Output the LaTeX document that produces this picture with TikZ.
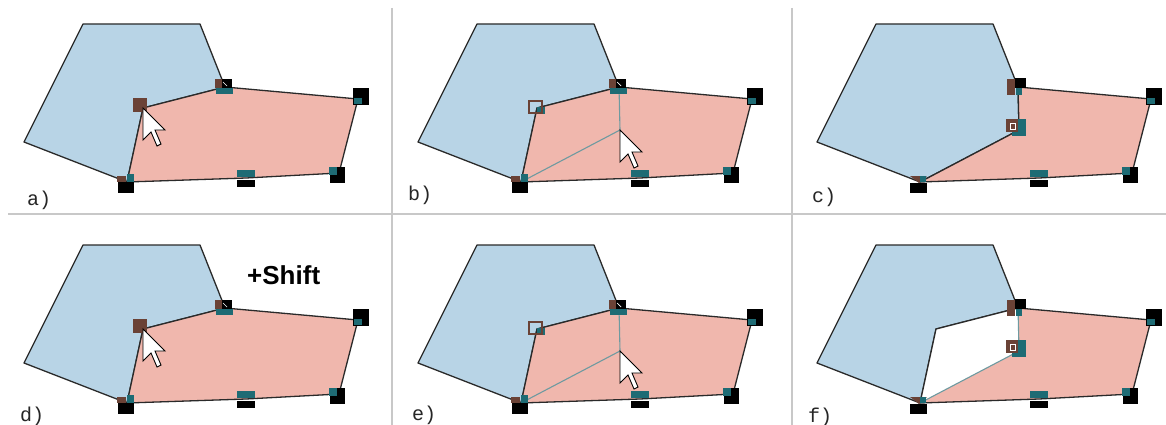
\documentclass[tikz,border=0pt]{standalone}
\usepackage{fontspec}
\setmainfont{Liberation Sans}
\newfontfamily\monof{Liberation Mono}
\definecolor{bluef}{HTML}{B8D4E6}
\definecolor{pinkf}{HTML}{F0B7AD}
\definecolor{tealh}{HTML}{1E6B74}
\definecolor{brownh}{HTML}{6A4236}
\definecolor{sepc}{HTML}{C8C8C8}
\definecolor{edgec}{HTML}{2A2A2A}
\definecolor{guidec}{HTML}{6E9AA0}
\tikzset{
  poly/.style={draw=edgec, line width=1.3pt, line join=round},
  bluepoly/.style={poly, fill=bluef},
  pinkpoly/.style={poly, fill=pinkf},
  guideline/.style={draw=guidec, line width=1.1pt},
  hb/.style={fill=black},
  ht/.style={fill=tealh},
  hr/.style={fill=brownh},
  cursorshape/.style={fill=white, draw=black, line width=0.9pt, line join=miter},
  lbl/.style={font=\monof\fontsize{20}{20}\selectfont, anchor=base west, inner sep=0pt, text=black!85},
  seprule/.style={draw=sepc, line width=1.5pt}
}
\newcommand\defpts{%
  \coordinate (B1) at (83,24); \coordinate (B2) at (200,24); \coordinate (B4) at (24,142);
  \coordinate (P1) at (143,108); \coordinate (P2) at (225,87); \coordinate (P3) at (358,99);
  \coordinate (P4) at (339,173); \coordinate (P5) at (246,178); \coordinate (P6) at (127,182);
  \coordinate (Q) at (226,130);}
\newcommand\mycursor[1]{\draw[cursorshape] (#1) -- ++(0,32) -- ++(8,-8) -- ++(6,14) -- ++(4,-2) -- ++(-6,-14) -- ++(10,0) -- cycle;}
\newcommand\origshapes{%
  \path[bluepoly] (B1) -- (B2) -- (P2) -- (P1) -- (P6) -- (B4) -- cycle;
  \path[pinkpoly] (P1) -- (P2) -- (P3) -- (P4) -- (P5) -- (P6) -- cycle;}
\newcommand\commonhandles{%
  \fill[hb] (353,88) rectangle (369,105); \fill[ht] (354,98) rectangle (362,104);
  \fill[hb] (330,167) rectangle (345,183); \fill[ht] (329,167) rectangle (337,175);
  \fill[ht] (237,170) rectangle (255,177); \fill[hb] (237,180) rectangle (255,187);}
\newcommand\handlesA{%
  \fill[hb] (218,79) rectangle (232,88); \fill[hr] (215,79) rectangle (222,88);
  \draw[white, line width=0.7pt] (223,82) -- (227,86);
  \fill[ht] (216,88) rectangle (233,94);
  \fill[hb] (118,182) rectangle (134,193); \fill[hr] (117,176) rectangle (126,182);
  \fill[ht] (127,174) rectangle (134,182);
  \commonhandles}
\newcommand\handlesC{%
  \fill[hb] (222,78) rectangle (233,88); \fill[hr] (214,79) rectangle (222,95);
  \fill[ht] (223,88) rectangle (229,95);
  \fill[ht] (219,119) rectangle (233,136); \fill[hr] (213,119) rectangle (225,132);
  \draw[white, line width=0.8pt] (217,123) rectangle (222,129);
  \fill[hb] (117,183) rectangle (134,193); \fill[hr] (117,176) -- (134,176) -- (126,183) -- cycle;
  \fill[ht] (127,176) rectangle (133,182);
  \commonhandles}
\newcommand\panelA{%
  \defpts \origshapes \handlesA
  \fill[hr] (133,98) rectangle (147,112);
  \mycursor{P1}}
\newcommand\panelB{%
  \defpts \origshapes
  \draw[guideline] (P6) -- (Q) -- (P2);
  \handlesA
  \fill[ht] (143,107) rectangle (151,114);
  \draw[brownh, line width=2pt] (135,101) rectangle (148,113);
  \mycursor{Q}}
\newcommand\panelC{%
  \defpts
  \path[bluepoly] (B1) -- (B2) -- (P2) -- (Q) -- (P6) -- (B4) -- cycle;
  \path[pinkpoly] (P2) -- (P3) -- (P4) -- (P5) -- (P6) -- (Q) -- cycle;
  \handlesC}
\newcommand\panelF{%
  \defpts
  \path[bluepoly] (B1) -- (B2) -- (P2) -- (P1) -- (P6) -- (B4) -- cycle;
  \fill[white] (P1) -- (P2) -- (Q) -- (P6) -- cycle;
  \fill[pinkf] (P2) -- (P3) -- (P4) -- (P5) -- (P6) -- (Q) -- cycle;
  \draw[poly] (P2) -- (P3) -- (P4) -- (P5) -- (P6);
  \draw[guideline] (P6) -- (Q) -- (P2);
  \draw[poly] (P6) -- (P1) -- (P2);
  \handlesC}
\begin{document}
\begin{tikzpicture}[x=1pt,y=-1pt]
\useasboundingbox (0,0) rectangle (1166,425);
\fill[white] (0,0) rectangle (1166,425);
\draw[seprule] (8,214) -- (1166,214);
\draw[seprule] (392,8) -- (392,425);
\draw[seprule] (792,8) -- (792,425);
\begin{scope}\panelA\end{scope}
\begin{scope}[shift={(394,0)}]\panelB\end{scope}
\begin{scope}[shift={(793,0)}]\panelC\end{scope}
\begin{scope}[shift={(0,221)}]\panelA\end{scope}
\begin{scope}[shift={(394,221)}]\panelB\end{scope}
\begin{scope}[shift={(793,221)}]\panelF\end{scope}
\node[lbl] (la) at (27,205) {a)};
\node[lbl] (lb) at (408,200) {b)};
\node[lbl] (lc) at (812,202) {c)};
\node[lbl] (ld) at (20,421) {d)};
\node[lbl] (le) at (412,420) {e)};
\node[lbl] (lf) at (808,422) {f)};
\node[font=\bfseries\fontsize{26}{26}\selectfont, anchor=base west, inner sep=0pt] (shift) at (247,284) {+Shift};
\end{tikzpicture}
\end{document}
